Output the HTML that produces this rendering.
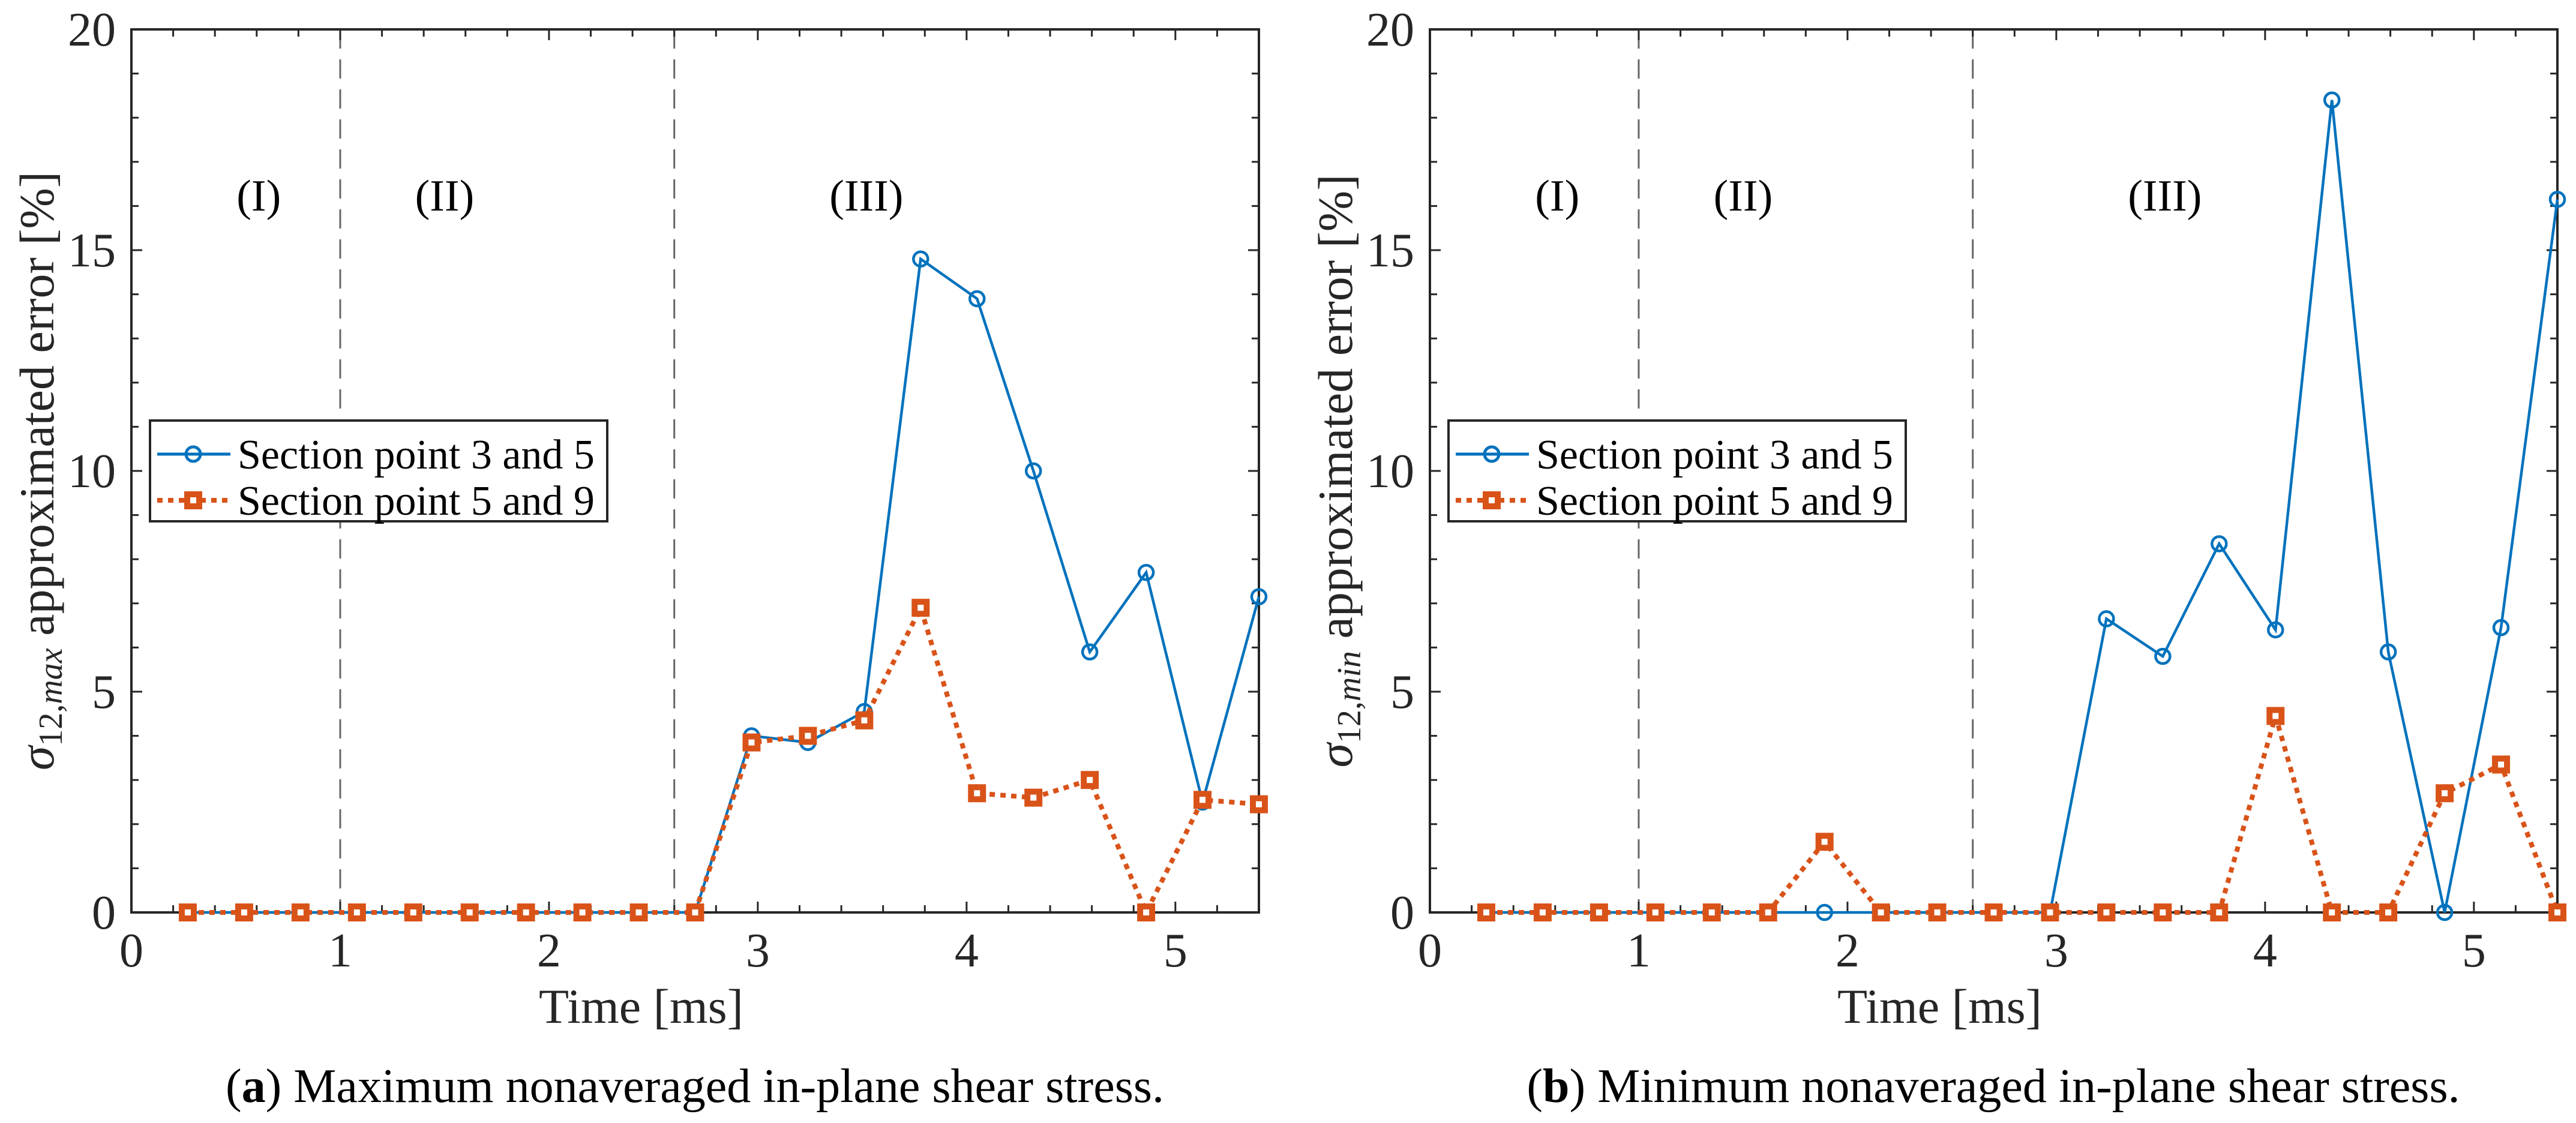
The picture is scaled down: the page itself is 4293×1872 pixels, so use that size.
<!DOCTYPE html>
<html><head><meta charset="utf-8"><style>
html,body{margin:0;padding:0;background:#fff;}
svg{display:block;font-family:"Liberation Serif",serif;}
</style></head><body>
<svg id="fig" width="4293" height="1872" viewBox="0 0 4293 1872" xmlns="http://www.w3.org/2000/svg">
<text x="1158" y="1837" font-size="80" text-anchor="middle">(<tspan font-weight="bold">a</tspan>) Maximum nonaveraged in-plane shear stress.</text>
<text x="3322" y="1837" font-size="80" text-anchor="middle">(<tspan font-weight="bold">b</tspan>) Minimum nonaveraged in-plane shear stress.</text>
</svg>
<script>
const timeMs = [0.27,0.54,0.81,1.08,1.35,1.62,1.89,2.16,2.43,2.70,2.97,3.24,3.51,3.78,4.05,4.32,4.59,4.86,5.13,5.40];
const maxSp35 = [0,0,0,0,0,0,0,0,0,0,4.0,3.85,4.55,14.8,13.9,10.0,5.9,7.7,2.5,7.15];
const maxSp59 = [0,0,0,0,0,0,0,0,0,0,3.85,4.0,4.35,6.9,2.7,2.6,3.0,0,2.55,2.45];
const minSp35 = [0,0,0,0,0,0,0,0,0,0,0,6.65,5.8,8.35,6.4,18.4,5.9,0,6.45,16.15];
const minSp59 = [0,0,0,0,0,0,1.6,0,0,0,0,0,0,0,4.45,0,0,2.7,3.35,0];
const xTicks = [0,1,2,3,4,5];
const yTicks = [0,5,10,15,20];
const phaseBounds = [1,2.6];
const phaseLabels = ["(I)","(II)","(III)"];
const phaseLabelX = [0.61,1.5,3.52];
const legendLabels = ["Section point 3 and 5","Section point 5 and 9"];

const NS="http://www.w3.org/2000/svg";
const svg=document.getElementById('fig');
const BLUE="#0072BD", ORANGE="#D95319", AX="#262626";
function mk(tag,attrs,parent){const e=document.createElementNS(NS,tag);for(const k in attrs)e.setAttribute(k,attrs[k]);(parent||svg).appendChild(e);return e;}

function panel(ox, key, s1, s2, sub){
  const L=ox, T=49, B=1521, W=1879, xMax=5.4, yMax=20;
  const xs=v=>L+v/xMax*W, ys=v=>B-v/yMax*(B-T);
  const g=mk('g',{});
  
  
  phaseBounds.forEach(b=>{
    const l=mk('line',{x1:xs(b),x2:xs(b),y1:T,y2:B,stroke:'#666',"stroke-width":3,"stroke-dasharray":"32,18"},g);
    
    
  });
  phaseLabels.forEach((t,i)=>{
    const tx=mk('text',{x:xs(phaseLabelX[i]),y:ys(15.9),"font-size":74,"text-anchor":"middle"},g);
    tx.textContent=t;
    
    
  });
  for(let v=0.2; v<xMax-0.01; v+=0.2){
    const isMaj=Math.abs(v-Math.round(v))<0.01;
    const len=isMaj?18:12;
    mk('line',{x1:xs(v),x2:xs(v),y1:B,y2:B-len,stroke:AX,"stroke-width":3},g);
    mk('line',{x1:xs(v),x2:xs(v),y1:T,y2:T+len,stroke:AX,"stroke-width":3},g);
  }
  for(let v=1; v<yMax; v+=1){
    const isMaj=v%5===0;
    const len=isMaj?18:12;
    mk('line',{x1:L,x2:L+len,y1:ys(v),y2:ys(v),stroke:AX,"stroke-width":3},g);
    mk('line',{x1:L+W,x2:L+W-len,y1:ys(v),y2:ys(v),stroke:AX,"stroke-width":3},g);
  }
  const box=mk('rect',{x:L,y:T,width:W,height:B-T,fill:'none',stroke:AX,"stroke-width":4},g);
  
  
  xTicks.forEach(v=>{
    const t=mk('text',{x:xs(v),y:B+90,"font-size":80,"text-anchor":"middle",fill:AX},g);
    t.textContent=v;
    
    
  });
  yTicks.forEach(v=>{
    const t=mk('text',{x:L-26,y:ys(v)+27,"font-size":80,"text-anchor":"end",fill:AX},g);
    t.textContent=v;
    
    
  });
  const xt=mk('text',{x:L+W/2-90,y:1705,"font-size":82,"text-anchor":"middle",fill:AX},g);
  xt.textContent="Time [ms]";
  
  
  const yt=mk('text',{x:0,y:0,"font-size":82,"text-anchor":"middle",fill:AX,transform:`translate(${L-130},${(T+B)/2}) rotate(-90)`},g);
  yt.innerHTML=`<tspan font-style="italic">σ</tspan><tspan font-size="56" dy="14">12,<tspan font-style="italic">${sub}</tspan></tspan><tspan dy="-14"> approximated error [%]</tspan>`;
  
  
  const p1=timeMs.map((t,i)=>xs(t)+','+ys(s1[i])).join(' ');
  const p2=timeMs.map((t,i)=>xs(t)+','+ys(s2[i])).join(' ');
  const l1=mk('polyline',{points:p1,fill:'none',stroke:BLUE,"stroke-width":4.5},g);
  
  
  timeMs.forEach((t,i)=>{
    const c=mk('circle',{cx:xs(t),cy:ys(s1[i]),r:12,fill:'none',stroke:BLUE,"stroke-width":4.5},g);
    
    
  });
  const l2=mk('polyline',{points:p2,fill:'none',stroke:ORANGE,"stroke-width":8,"stroke-dasharray":"9,9"},g);
  
  
  timeMs.forEach((t,i)=>{
    const r=mk('rect',{x:xs(t)-10,y:ys(s2[i])-10,width:20,height:20,fill:'#fff',stroke:ORANGE,"stroke-width":10},g);
    
    
  });
  const lx=L+31, ly=701;
  const lg=mk('g',{},g);
  
  
  mk('rect',{x:lx,y:ly,width:762,height:168,fill:'#fff',stroke:AX,"stroke-width":4},lg);
  const r1=ly+46, r2=ly+123;
  mk('line',{x1:lx+12,x2:lx+134,y1:r1+10,y2:r1+10,stroke:BLUE,"stroke-width":5},lg);
  mk('circle',{cx:lx+72,cy:r1+10,r:12,fill:'none',stroke:BLUE,"stroke-width":5},lg);
  mk('line',{x1:lx+12,x2:lx+134,y1:r2+10,y2:r2+10,stroke:ORANGE,"stroke-width":8,"stroke-dasharray":"9,9"},lg);
  mk('rect',{x:lx+62,y:r2,width:20,height:20,fill:'#fff',stroke:ORANGE,"stroke-width":10},lg);
  [r1,r2].forEach((ry,i)=>{
    const t=mk('text',{x:lx+146,y:ry+34,"font-size":70,fill:'#000'},lg);
    t.textContent=legendLabels[i];
    
    
  });
}
panel(219,'a',maxSp35,maxSp59,'max');
panel(2383,'b',minSp35,minSp59,'min');
</script>
</body></html>
